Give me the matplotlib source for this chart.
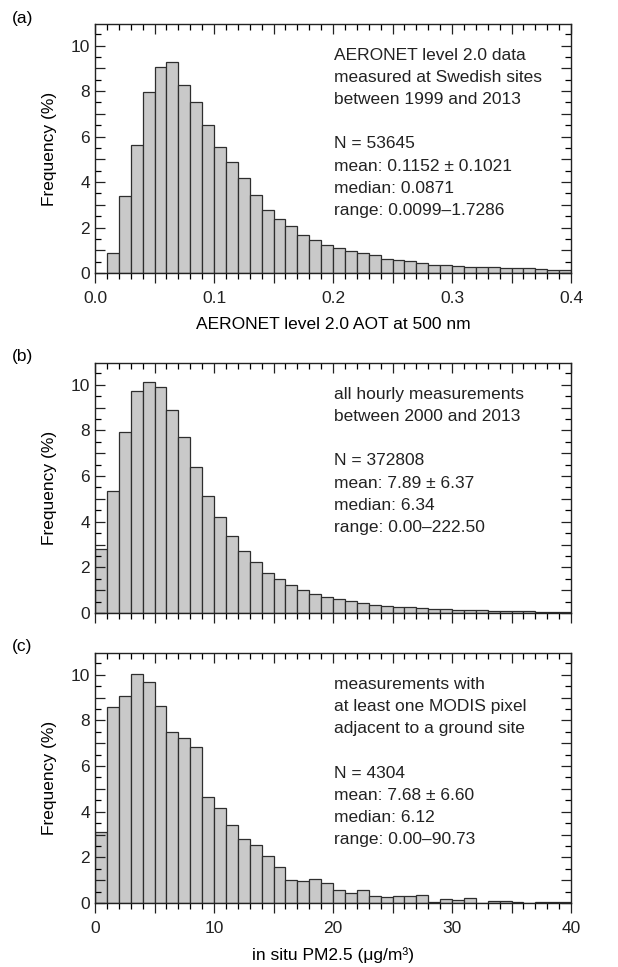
import numpy as np
import matplotlib
matplotlib.use("Agg")
import matplotlib.pyplot as plt
from matplotlib.ticker import MultipleLocator, FuncFormatter

plt.rcParams['font.family'] = ['Liberation Sans', 'DejaVu Sans']

# panel (a): AOT histogram, bins of 0.01 from 0.01 to 0.40
aot_left = np.arange(0.01, 0.40, 0.01)
aot_freq = [0.88, 3.40, 5.63, 7.98, 9.06, 9.28, 8.27, 7.51, 6.52, 5.56,
            4.87, 4.18, 3.43, 2.77, 2.38, 2.08, 1.69, 1.45, 1.23, 1.11,
            0.98, 0.88, 0.79, 0.62, 0.57, 0.53, 0.43, 0.37, 0.37, 0.31,
            0.28, 0.28, 0.28, 0.23, 0.23, 0.21, 0.18, 0.15, 0.15]

# panels (b) and (c): PM2.5 histograms, bins of 1 from 0 to 40
pm_left = np.arange(0, 40, 1)
pm_all = [2.80, 5.34, 7.93, 9.72, 10.12, 9.90, 8.91, 7.69, 6.41, 5.12,
          4.19, 3.37, 2.73, 2.23, 1.75, 1.49, 1.21, 0.99, 0.83, 0.70,
          0.60, 0.51, 0.42, 0.35, 0.32, 0.28, 0.25, 0.22, 0.19, 0.18,
          0.15, 0.13, 0.12, 0.10, 0.09, 0.07, 0.07, 0.06, 0.06, 0.05]
pm_modis = [3.11, 8.60, 9.07, 10.03, 9.68, 8.64, 7.49, 7.23, 6.83, 4.66,
            4.16, 3.43, 2.80, 2.53, 2.06, 1.58, 1.02, 0.96, 1.05, 0.88,
            0.58, 0.45, 0.58, 0.31, 0.25, 0.29, 0.31, 0.35, 0.04, 0.18,
            0.13, 0.23, 0.00, 0.10, 0.09, 0.04, 0.00, 0.04, 0.04, 0.06]

texts = [
    "AERONET level 2.0 data\nmeasured at Swedish sites\nbetween 1999 and 2013\n\n"
    "N = 53645\nmean: 0.1152 \u00b1 0.1021\nmedian: 0.0871\nrange: 0.0099\u20131.7286",
    "all hourly measurements\nbetween 2000 and 2013\n\n"
    "N = 372808\nmean: 7.89 \u00b1 6.37\nmedian: 6.34\nrange: 0.00\u2013222.50",
    "measurements with\nat least one MODIS pixel\nadjacent to a ground site\n\n"
    "N = 4304\nmean: 7.68 \u00b1 6.60\nmedian: 6.12\nrange: 0.00\u201390.73",
]

W, H = 618, 967
fig = plt.figure(figsize=(W / 100, H / 100), dpi=100)

# axes boxes in pixels: left, top, right, bottom
boxes = [(95, 24, 571, 273), (95, 363, 571, 613), (95, 653, 571, 903)]
axes = []
for (l, t, r, b) in boxes:
    axes.append(fig.add_axes([l / W, 1 - b / H, (r - l) / W, (b - t) / H]))

bar_kw = dict(align='edge', color='#c9c9c9', edgecolor='#2e2e2e', linewidth=0.9)
axes[0].bar(aot_left, aot_freq, width=0.01, **bar_kw)
axes[1].bar(pm_left, pm_all, width=1, **bar_kw)
axes[2].bar(pm_left, pm_modis, width=1, **bar_kw)

even_fmt = FuncFormatter(lambda v, p: "%d" % round(v) if round(v) % 2 == 0 else "")

for i, ax in enumerate(axes):
    ax.set_ylim(0, 10.95)
    ax.yaxis.set_major_locator(MultipleLocator(1))
    ax.yaxis.set_minor_locator(MultipleLocator(0.5))
    ax.yaxis.set_major_formatter(even_fmt)
    if i == 0:
        ax.set_xlim(0, 0.4)
        ax.xaxis.set_major_locator(MultipleLocator(0.05))
        ax.xaxis.set_minor_locator(MultipleLocator(0.01))
        ax.xaxis.set_major_formatter(FuncFormatter(
            lambda v, p: "%.1f" % v if abs(v * 10 - round(v * 10)) < 1e-6 else ""))
    else:
        ax.set_xlim(0, 40)
        ax.xaxis.set_major_locator(MultipleLocator(5))
        ax.xaxis.set_minor_locator(MultipleLocator(1))
        ax.xaxis.set_major_formatter(FuncFormatter(
            lambda v, p: "%d" % round(v) if round(v) % 10 == 0 else ""))
    ax.tick_params(axis='x', which='both', direction='out', top=True)
    ax.tick_params(axis='y', which='both', direction='in', right=True)
    ax.tick_params(which='major', length=7, width=0.9, labelsize=12.5, colors='#222222')
    ax.tick_params(which='minor', length=4, width=0.9)
    ax.tick_params(axis='x', which='major', pad=6)
    # top ticks point inward
    for tl in ax.xaxis.get_ticklines(minor=False)[1::2]:
        tl.set_marker(3)
    for tl in ax.xaxis.get_ticklines(minor=True)[1::2]:
        tl.set_marker(3)
    for s in ax.spines.values():
        s.set_linewidth(1.0)
        s.set_color('#222222')
    ax.set_ylabel("Frequency (%)", fontsize=12.5, labelpad=10)
    ax.text(0.503, 0.905, texts[i], transform=ax.transAxes, fontsize=12.5,
            va='top', ha='left', linespacing=1.6, color='#222222')

# middle panel has no x tick labels
axes[1].tick_params(axis='x', labelbottom=False)

axes[0].set_xlabel("AERONET level 2.0 AOT at 500 nm", fontsize=12.5, labelpad=8)
axes[2].set_xlabel("in situ PM2.5 (\u03bcg/m\u00b3)", fontsize=12.5, labelpad=8)

for lab, y in zip(["(a)", "(b)", "(c)"], [18, 357, 646]):
    fig.text(12 / W, 1 - y / H, lab, fontsize=12.5, va='center', ha='left')

fig.savefig("out.png", dpi=100)
